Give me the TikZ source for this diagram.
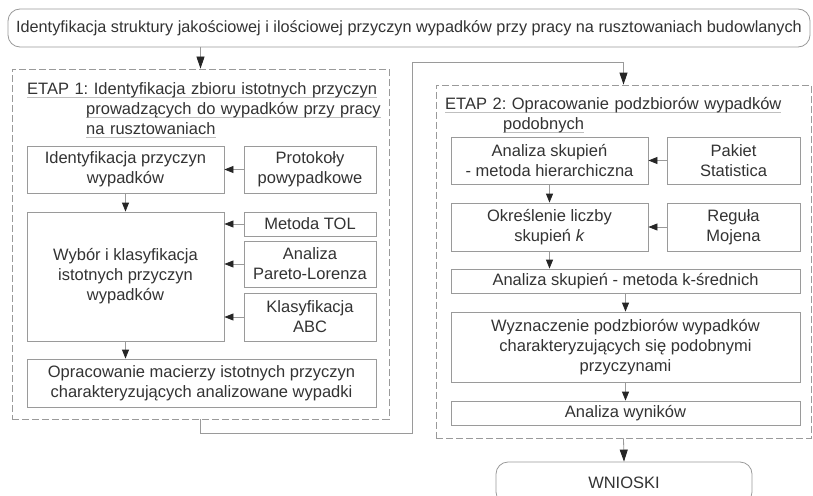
\documentclass[tikz,border=0pt]{standalone}
\usepackage{fontspec}
\setmainfont{Liberation Sans}
\usetikzlibrary{arrows.meta}
\definecolor{linegray}{HTML}{9A9A9A}
\definecolor{txt}{HTML}{333333}
\newsavebox\myulbox
\newcommand\grayul[1]{\leavevmode\sbox\myulbox{#1}\rlap{\textcolor{gray!50}{\rule[-3.5pt]{\wd\myulbox}{0.7pt}}}\usebox\myulbox}
\frenchspacing
\tikzset{
  box/.style={draw=linegray, line width=0.8pt, text=txt, align=center, inner sep=0pt,
              font=\fontsize{16.5}{20}\selectfont},
  rbox/.style={box, rounded corners=12pt},
  etapbox/.style={draw=linegray, line width=0.8pt, dash pattern=on 7pt off 3pt, inner sep=0pt},
  headtxt/.style={text=txt, align=left, inner sep=0pt, text width=360pt,
              font=\fontsize{16.5}{20}\selectfont},
  arr/.style={draw=linegray, line width=0.8pt, -{Triangle[length=9pt,width=7pt,color=black!85]}},
  bigarr/.style={draw=linegray, line width=0.8pt, -{Triangle[length=12pt,width=8pt,color=black!85]}},
}
\begin{document}
\begin{tikzpicture}[x=1pt,y=-1pt]
\useasboundingbox (0,0) rectangle (813,495);
\clip (0,0) rectangle (813,495);
\fill[white] (0,0) rectangle (813,495);

% top
\node[rbox, minimum width=802pt, minimum height=38pt, font=\fontsize{16.25}{20}\selectfont] (top) at (409,28)
  {Identyfikacja struktury jakościowej i ilościowej przyczyn wypadków przy pracy na rusztowaniach budowlanych};

% stage frames
\node[etapbox, minimum width=377pt, minimum height=350pt] (e1) at (200.5,244) {};
\node[etapbox, minimum width=375pt, minimum height=353pt] (e2) at (623.5,261.5) {};

% headings
\node[headtxt, anchor=base west] (h1) at (27,94)
  {\grayul{ETAP 1: Identyfikacja zbioru istotnych przyczyn}\\
   \hspace*{59pt}\grayul{prowadzących do wypadków przy pracy}\\
   \hspace*{59pt}\grayul{na rusztowaniach}};
\node[headtxt, anchor=base west] (h2) at (445,109)
  {\grayul{ETAP 2: Opracowanie podzbiorów wypadków}\\
   \hspace*{58pt}\grayul{podobnych}};

% stage 1 boxes
\node[box, minimum width=197pt, minimum height=47pt] (idp) at (125.5,169.5) {Identyfikacja przyczyn\\wypadków};
\node[box, minimum width=132pt, minimum height=47pt] (prot) at (310,169.5) {Protokoły\\powypadkowe};
\node[box, minimum width=197pt, minimum height=129pt] (wyb) at (125.5,276.5) {Wybór i klasyfikacja\\istotnych przyczyn\\wypadków};
\node[box, minimum width=132pt, minimum height=24pt] (tol) at (310,224) {Metoda TOL};
\node[box, minimum width=132pt, minimum height=46pt] (par) at (310,264) {Analiza\\Pareto-Lorenza};
\node[box, minimum width=132pt, minimum height=48pt] (abc) at (310,317) {Klasyfikacja\\ABC};
\node[box, minimum width=349pt, minimum height=48pt] (opr) at (201.5,383) {Opracowanie macierzy istotnych przyczyn\\charakteryzujących analizowane wypadki};

% stage 2 boxes
\node[box, minimum width=197pt, minimum height=47pt] (ask) at (549.5,160.5) {Analiza skupień\\- metoda hierarchiczna};
\node[box, minimum width=133pt, minimum height=47pt] (pak) at (733.5,160.5) {Pakiet\\Statistica};
\node[box, minimum width=197pt, minimum height=48pt] (okr) at (549.5,227) {Określenie liczby\\skupień \textit{k}};
\node[box, minimum width=133pt, minimum height=48pt] (reg) at (733.5,227) {Reguła\\Mojena};
\node[box, minimum width=349pt, minimum height=24pt] (ksr) at (625.5,281) {Analiza skupień - metoda k-średnich};
\node[box, minimum width=349pt, minimum height=70pt] (wyz) at (625.5,347) {Wyznaczenie podzbiorów wypadków\\charakteryzujących się podobnymi\\przyczynami};
\node[box, minimum width=349pt, minimum height=24pt] (wyn) at (625.5,413) {Analiza wyników};

% conclusions
\node[rbox, minimum width=256pt, minimum height=42pt] (wn) at (624,483) {WNIOSKI};

% connectors
\coordinate (c1) at (412,433);
\coordinate (c2) at (412,62);
\draw[bigarr] (top.south -| e1.north) -- (e1.north);
\draw[bigarr] (e1.south) |- (c1) -- (c2) -| (e2.north);
\draw[bigarr] (e2.south) -- (wn.north);

\draw[arr] (prot.west) -- (prot.west -| idp.east);
\draw[arr] (tol.west) -- (tol.west -| wyb.east);
\draw[arr] (par.west) -- (par.west -| wyb.east);
\draw[arr] (abc.west) -- (abc.west -| wyb.east);
\draw[arr] (idp.south) -- (wyb.north);
\draw[arr] (wyb.south) -- (wyb.south |- opr.north);

\draw[arr] (pak.west) -- (pak.west -| ask.east);
\draw[arr] (reg.west) -- (reg.west -| okr.east);
\draw[arr] (ask.south) -- (okr.north);
\draw[arr] (okr.south) -- (okr.south |- ksr.north);
\draw[arr] (ksr.south) -- (wyz.north);
\draw[arr] (wyz.south) -- (wyn.north);
\end{tikzpicture}
\end{document}
